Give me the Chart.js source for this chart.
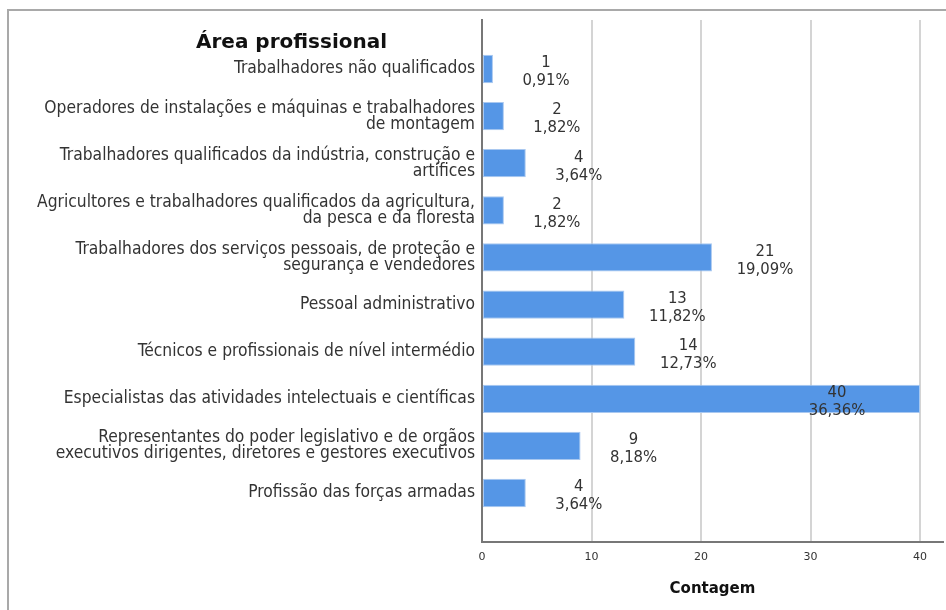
<!DOCTYPE html>
<html>
<head>
<meta charset="utf-8">
<script src="https://cdn.jsdelivr.net/npm/chart.js@4"></script>
<style>
  html, body { margin: 0; padding: 0; background: #fff; overflow: hidden; }
  #wrap { position: relative; width: 946px; height: 610px; overflow: hidden; }
  #frame { position: absolute; left: 7px; top: 9px; width: 960px; height: 620px;
           border-left: 2px solid #a9a9a9; border-top: 2px solid #a9a9a9; pointer-events: none; }
  canvas { position: absolute; left: 0; top: 0; }
</style>
</head>
<body>
<div id="wrap">
  <canvas id="chart" width="946" height="610"></canvas>
  <div id="frame"></div>
</div>
<script>
const TITLE = "Área profissional";
const X_TITLE = "Contagem";

// one entry per bar, top to bottom; inner arrays are the label lines
const categories = [
  ["Trabalhadores não qualificados"],
  ["Operadores de instalações e máquinas e trabalhadores", "de montagem"],
  ["Trabalhadores qualificados da indústria, construção e", "artífices"],
  ["Agricultores e trabalhadores qualificados da agricultura,", "da pesca e da floresta"],
  ["Trabalhadores dos serviços pessoais, de proteção e", "segurança e vendedores"],
  ["Pessoal administrativo"],
  ["Técnicos e profissionais de nível intermédio"],
  ["Especialistas das atividades intelectuais e científicas"],
  ["Representantes do poder legislativo e de orgãos", "executivos dirigentes, diretores e gestores executivos"],
  ["Profissão das forças armadas"],
];
const counts = [1, 2, 4, 2, 21, 13, 14, 40, 9, 4];
const percents = ["0,91%", "1,82%", "3,64%", "1,82%", "19,09%", "11,82%", "12,73%", "36,36%", "8,18%", "3,64%"];
const xTicks = [0, 10, 20, 30, 40];

const FONT = "'DejaVu Sans Condensed', 'DejaVu Sans', sans-serif";
const TEXT = "#333333";
const BAR = "#5596e6";
const BAR_EDGE = "#a9c8f0";

// count + percent next to each bar end
const valueLabels = {
  id: "valueLabels",
  afterDatasetsDraw(chart) {
    const { ctx, chartArea } = chart;
    const meta = chart.getDatasetMeta(0);
    ctx.save();
    ctx.font = "16.5px " + FONT;
    ctx.fillStyle = TEXT;
    ctx.textAlign = "center";
    ctx.textBaseline = "middle";
    meta.data.forEach((bar, i) => {
      let cx = bar.x + 53;
      if (cx + 30 > chartArea.right) cx = bar.x - 83;
      ctx.fillText(String(counts[i]), cx, bar.y - 6);
      ctx.fillText(percents[i], cx, bar.y + 12);
    });
    ctx.restore();
  },
};

// bold heading over the category labels
const cornerTitle = {
  id: "cornerTitle",
  afterDraw(chart) {
    const { ctx } = chart;
    ctx.save();
    ctx.font = "bold 20px 'DejaVu Sans', sans-serif";
    ctx.fillStyle = "#111111";
    ctx.textAlign = "left";
    ctx.textBaseline = "alphabetic";
    ctx.fillText(TITLE, 196, 48);
    ctx.restore();
  },
};

new Chart(document.getElementById("chart").getContext("2d"), {
  type: "bar",
  data: {
    datasets: [{
      data: counts.map((v, i) => ({ x: v, y: i })),
      backgroundColor: BAR,
      borderColor: BAR_EDGE,
      borderWidth: 1,
      borderSkipped: false,
      categoryPercentage: 1,
      barPercentage: 0.6,
    }],
  },
  options: {
    indexAxis: "y",
    responsive: false,
    animation: false,
    layout: { padding: { top: 20, right: 3, bottom: 0, left: 0 } },
    plugins: {
      legend: { display: false },
      tooltip: { enabled: false },
    },
    scales: {
      x: {
        type: "linear",
        min: 0,
        max: 42.1,
        afterBuildTicks: (s) => { s.ticks = xTicks.map((v) => ({ value: v })); },
        afterFit: (s) => { s.height = 68; },
        ticks: { color: TEXT, font: { family: "'DejaVu Sans', sans-serif", size: 11 }, padding: 9, maxRotation: 0 },
        grid: { color: "#d4d4d4", lineWidth: 2, drawTicks: false },
        border: { display: true, color: "#777777", width: 2 },
        title: {
          display: true,
          text: X_TITLE,
          color: "#111111",
          font: { family: "'DejaVu Sans', sans-serif", size: 15, weight: "bold" },
          padding: { top: 0, bottom: 12 },
        },
      },
      y: {
        type: "linear",
        reverse: true,
        offset: false,
        min: -1.04,
        max: 10.04,
        afterBuildTicks: (s) => { s.ticks = categories.map((_, i) => ({ value: i })); },
        afterFit: (s) => { s.width = 482; },
        ticks: {
          autoSkip: false,
          color: TEXT,
          padding: 7,
          font: { family: FONT, size: 17.3, lineHeight: "16px" },
          callback: (v) => categories[v] || "",
        },
        grid: { display: false, drawTicks: false },
        border: { display: true, color: "#777777", width: 2 },
      },
    },
  },
  plugins: [valueLabels, cornerTitle],
});
</script>
</body>
</html>
